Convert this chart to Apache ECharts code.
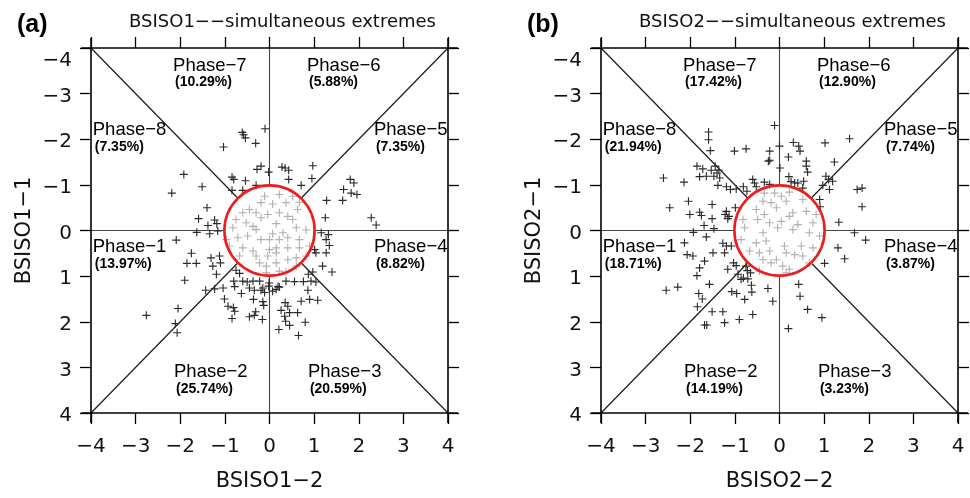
<!DOCTYPE html>
<html>
<head>
<meta charset="utf-8">
<script src="https://cdn.jsdelivr.net/npm/echarts@6/dist/echarts.min.js"></script>
<style>
  html, body { margin: 0; padding: 0; background: #fff; }
  #chart { width: 970px; height: 498px; }
</style>
</head>
<body>
<div id="chart"></div>
<script>
// ---- data ----
var panelTitles = ['BSISO1\u2212\u2212simultaneous extremes', 'BSISO2\u2212\u2212simultaneous extremes'];
var panelTags = ['(a)', '(b)'];
var xNames = ['BSISO1\u22122', 'BSISO2\u22122'];
var yNames = ['BSISO1\u22121', 'BSISO2\u22121'];
var phaseNames = ['Phase\u22121', 'Phase\u22122', 'Phase\u22123', 'Phase\u22124',
                  'Phase\u22125', 'Phase\u22126', 'Phase\u22127', 'Phase\u22128'];
var pctA = [13.97, 25.74, 20.59, 8.82, 7.35, 5.88, 10.29, 7.35];
var pctB = [18.71, 14.19, 3.23, 3.87, 7.74, 12.90, 17.42, 21.94];
var axisMin = -4, axisMax = 4, axisStep = 1;

// BSISO1 (x = component 2, y = component 1)
var pointsA = [
  [-0.10,-2.23],[-0.61,-2.15],[-0.58,-2.10],[-0.54,-2.03],[-0.31,-1.91],[-1.03,-1.83],[-0.19,-1.41],[-0.28,-1.34],
  [-0.02,-1.28],[-0.84,-1.17],[-0.80,-1.12],[-0.54,-1.09],[-0.84,-0.88],[-0.60,-0.88],[-0.30,-0.99],
  [0.28,-1.39],[0.35,-1.37],[0.43,-1.32],[0.97,-1.42],[0.43,-1.12],[0.95,-1.14],[0.71,-0.99],
  [1.81,-1.12],[1.89,-1.04],[1.66,-0.90],[1.83,-0.82],[1.96,-0.79],[1.28,-0.66],[1.64,-0.66],[1.25,-0.28],[2.28,-0.28],[2.39,-0.12],
  [1.16,0.05],[1.32,0.09],[1.27,0.20],[1.34,0.33],[1.01,0.42],[1.04,0.49],[1.27,0.49],[1.40,0.91],[1.19,0.78],[0.97,0.91],
  [-1.92,-1.23],[-1.51,-0.96],[-2.19,-0.82],[-1.40,-0.50],[-1.59,-0.26],[-1.23,-0.23],[-1.38,-0.11],[-1.18,-0.15],
  [-1.63,0.04],[-1.34,0.07],[-1.16,0.01],[-2.09,0.21],[-1.75,0.50],[-1.31,0.60],[-1.85,0.72],[-1.64,0.72],[-1.12,0.56],
  [-1.10,0.71],[-1.27,0.78],[-1.19,0.96],[-1.90,1.09],[-1.43,1.31],[-2.05,1.71],[-2.76,1.86],[-2.11,2.04],
  [-2.07,2.24],[-0.75,0.87],[-0.67,0.94],[-0.80,1.11],[-0.60,1.11],[-0.50,1.13],[-0.37,1.11],[-0.22,1.11],[-1.23,1.28],
  [-1.04,1.26],[-0.78,1.23],[-0.63,1.38],[-0.45,1.26],[-0.34,1.31],[-0.19,1.31],[-0.15,1.26],[-0.11,1.36],[-1.01,1.50],
  [-0.36,1.51],[-0.15,1.56],[-0.13,1.64],[-0.93,1.66],[-0.81,1.69],[-0.78,1.77],[-0.84,1.93],[-0.45,1.89],[-0.34,1.86],
  [-0.16,1.95],[-0.31,1.78],[-0.01,1.15],[-0.02,1.22],
  [0.19,1.23],[0.37,1.11],[0.56,1.12],[0.76,1.12],[0.93,1.11],[1.04,1.13],[0.87,0.96],[0.07,1.33],[0.15,1.29],[0.22,1.24],
  [0.86,1.31],[0.35,1.58],[0.41,1.66],[0.26,1.75],[0.71,1.55],[0.90,1.51],[1.08,1.53],[0.34,1.88],[0.45,1.80],[0.63,1.80],
  [0.36,1.99],[0.45,2.08],[0.80,2.01],[0.21,2.17],[0.65,2.30],
  // inside the unit circle
  [-0.11,-0.75],[0.22,-0.79],[0.52,-0.75],[-0.19,-0.61],[0.07,-0.58],[0.37,-0.61],[0.67,-0.62],[-0.60,-0.39],[-0.45,-0.46],
  [-0.30,-0.39],[-0.04,-0.35],[0.22,-0.39],[0.41,-0.31],[0.63,-0.46],[-0.75,-0.24],[-0.52,-0.17],[-0.37,-0.09],[-0.19,-0.28],
  [0.15,-0.15],[0.52,-0.24],[-0.82,-0.06],[-0.30,-0.02],[0.07,0.07],[0.30,0.05],[0.60,-0.06],[0.82,-0.01],[-0.71,0.16],
  [-0.49,0.12],[-0.19,0.20],[0.00,0.20],[0.22,0.20],[0.41,0.16],[0.67,0.20],[-0.90,0.34],[-0.60,0.38],[-0.37,0.45],
  [0.00,0.42],[0.15,0.38],[0.41,0.38],[0.67,0.38],[0.90,0.34],[-0.67,0.56],[-0.30,0.56],[-0.04,0.56],[0.15,0.49],
  [0.41,0.64],[0.60,0.60],[0.82,0.56],[-0.22,0.71],[-0.07,0.78],[0.15,0.71],[0.60,0.78],[-0.97,0.20],[-0.07,0.93],
  [0.22,0.89],[0.37,0.91]
];

// BSISO2
var pointsB = [
  [-0.11,-2.30],[-1.59,-2.16],[-1.59,-1.99],[-1.55,-1.75],[-1.01,-1.74],[-0.75,-1.79],[0.00,-1.85],[-0.22,-1.74],
  [-0.22,-1.54],[-0.25,-1.52],[0.31,-1.93],[0.43,-1.85],[0.46,-1.74],[0.20,-1.61],[1.02,-1.92],[1.57,-2.01],[0.60,-1.52],
  [0.60,-1.41],[0.63,-1.28],[0.01,-1.37],[1.23,-1.50],
  [-1.85,-1.41],[-1.72,-1.35],[-1.79,-1.18],[-1.53,-1.32],[-1.44,-1.41],[-1.36,-1.32],[-1.40,-1.26],[-1.34,-1.15],
  [-1.38,-0.99],[-1.64,-1.19],[-1.47,-1.19],[-2.60,-1.15],[-2.14,-1.06],[-1.19,-0.96],[-1.10,-0.90],[-0.97,-0.91],
  [-0.81,-0.96],[-0.73,-0.86],[-0.60,-1.12],[-0.56,-1.04],[-0.52,-0.96],[-0.34,-1.06],[-0.22,-1.01],
  [0.21,-1.18],[0.26,-1.07],[0.34,-1.04],[0.41,-1.04],[0.54,-1.08],[0.52,-0.93],[1.04,-1.19],[1.10,-1.12],[0.97,-0.99],
  [0.90,-0.68],[0.91,-0.52],[1.12,-0.90],[1.19,-1.08],[1.74,-0.90],[1.85,-0.93],
  [-2.46,-0.50],[-2.04,-0.64],[-2.01,-0.35],[-1.79,-0.40],[-1.75,-0.33],[-1.51,-0.57],[-1.51,-0.26],[-1.19,-0.42],
  [-1.22,-0.35],[-1.13,-0.31],[-1.16,-0.26],[-0.99,-0.50],[-1.69,-0.11],[-1.47,-0.04],[-1.93,0.04],
  [1.85,-0.52],[1.33,-0.18],[1.68,0.05],[1.93,0.21],
  [-2.13,0.27],[-2.07,0.53],[-1.94,0.56],[-1.64,0.14],[-1.49,0.49],[-1.27,0.28],[-1.23,0.49],[-1.19,0.34],[-1.08,0.34],
  [-1.68,0.67],[-1.79,0.82],[-1.85,0.99],[-1.16,0.85],[-1.03,0.71],[-0.97,0.77],[-0.75,0.78],[-0.72,0.88],[-0.93,0.96],
  [-0.86,1.07],[-0.81,1.04],[-0.65,0.93],[-0.71,1.06],
  [1.31,0.38],[1.46,0.62],[1.01,0.72],
  [-2.54,1.31],[-2.28,1.24],[-1.81,1.38],[-1.73,1.50],[-1.57,1.18],[-1.07,1.34],[-0.96,1.38],[-0.78,1.51],[-0.63,1.20],
  [-0.62,1.35],[-0.26,1.27],[-0.15,1.55],[0.43,1.18],[0.46,1.44],[0.63,1.73],[0.95,1.91],[-1.84,1.67],[-1.51,1.78],
  [-1.27,1.78],[-1.23,2.02],[-0.90,1.95],[-0.60,1.84],[-1.68,2.07],[-1.63,2.07],[0.20,2.15],
  // inside the unit circle
  [-0.34,-0.82],[-0.11,-0.82],[0.22,-0.84],[0.04,-0.75],[-0.37,-0.64],[-0.19,-0.61],[0.15,-0.64],[0.52,-0.68],
  [-0.52,-0.46],[-0.34,-0.35],[-0.07,-0.50],[0.30,-0.39],[0.60,-0.42],[0.82,-0.35],[-0.82,-0.24],[-0.49,-0.24],
  [-0.22,-0.17],[0.04,-0.20],[0.22,-0.31],[0.41,-0.13],[0.75,-0.17],[-0.78,-0.06],[-0.37,0.05],[-0.04,-0.06],
  [0.30,-0.02],[0.67,0.05],[0.90,0.12],[-0.86,0.20],[-0.52,0.27],[-0.30,0.23],[0.11,0.34],[0.49,0.34],[0.75,0.38],
  [-0.67,0.45],[-0.45,0.49],[-0.22,0.45],[-0.07,0.64],[0.15,0.49],[0.34,0.53],[0.52,0.56],[-0.37,0.64],[-0.19,0.71],
  [0.07,0.78],[0.22,0.85],[-0.45,0.89],[0.15,0.93],[0.67,0.71]
];

// ---- layout ----
var FONT = '"DejaVu Sans", sans-serif';
var LABEL_FONT = '"Liberation Sans", Arial, sans-serif';
var gridLefts = [91, 601];
var gridTop = 48, gridW = 357, gridH = 365;
// anchor (left edge, middle of the two lines) of each phase label, in axis units
var phaseLabelAt = [[-3.96, 0.55], [-2.14, 3.29], [0.86, 3.29], [2.34, 0.55],
                    [2.34, -2.01], [0.84, -3.43], [-2.16, -3.43], [-3.96, -2.01]];
var EXT = 4.22;   // frame lines run a little past the corners
var D = Math.SQRT1_2;

var plusSymbol = 'path://M0,4.3H10V5.7H0Z M4.3,0H5.7V10H4.3Z';

function tickText(v) {
    return v < 0 ? '\u2212' + (-v) : String(v);
}

var grids = [], xAxes = [], yAxes = [], series = [], graphics = [];

function addPanel(k, points, pct) {
    grids.push({ left: gridLefts[k], top: gridTop, width: gridW, height: gridH,
                 containLabel: false, outerBoundsMode: 'none' });

    var tick = { show: true, inside: false, length: 11, lineStyle: { color: '#000', width: 1.3 } };
    var base = { gridIndex: k, type: 'value', min: axisMin, max: axisMax, interval: axisStep,
                 axisLine: { show: false, onZero: false }, splitLine: { show: false }, axisTick: tick };

    xAxes.push(Object.assign({}, base, {
        position: 'bottom', name: xNames[k], nameLocation: 'middle', nameGap: 58,
        nameTextStyle: { fontFamily: FONT, fontSize: 21, color: '#111' },
        axisLabel: { margin: 24, fontFamily: FONT, fontSize: 20, color: '#111', formatter: tickText }
    }));
    xAxes.push(Object.assign({}, base, { position: 'top', axisLabel: { show: false } }));

    yAxes.push(Object.assign({}, base, {
        position: 'left', inverse: true, name: yNames[k], nameLocation: 'middle', nameGap: 56,
        nameTextStyle: { fontFamily: FONT, fontSize: 21, color: '#111' },
        axisLabel: {
            margin: 19, fontFamily: FONT, fontSize: 20, color: '#111', padding: [6, 0, 0, 0],
            formatter: function (v) {
                return v === axisMin ? '{first|' + tickText(v) + '}' : tickText(v);
            },
            rich: { first: { fontFamily: FONT, fontSize: 20, color: '#111', padding: [20, 0, 0, 0] } }
        }
    }));
    yAxes.push(Object.assign({}, base, { position: 'right', inverse: true, axisLabel: { show: false } }));

    var xi = 2 * k, yi = 2 * k;

    // box frame
    series.push({
        type: 'lines', coordinateSystem: 'cartesian2d', xAxisIndex: xi, yAxisIndex: yi,
        clip: false, silent: true, z: 5,
        lineStyle: { color: '#000', width: 1.6, opacity: 1 },
        data: [
            { coords: [[-EXT, axisMin], [EXT, axisMin]] },
            { coords: [[-EXT, axisMax], [EXT, axisMax]] },
            { coords: [[axisMin, -EXT], [axisMin, EXT]] },
            { coords: [[axisMax, -EXT], [axisMax, EXT]] }
        ]
    });
    // phase dividers, from the unit circle out to the frame
    series.push({
        type: 'lines', coordinateSystem: 'cartesian2d', xAxisIndex: xi, yAxisIndex: yi,
        silent: true, z: 3,
        lineStyle: { color: '#1a1a1a', width: 1.2, opacity: 1 },
        data: [
            { coords: [[-4, -4], [-D, -D]] }, { coords: [[D, D], [4, 4]] },
            { coords: [[-4, 4], [-D, D]] }, { coords: [[D, -D], [4, -4]] }
        ]
    });
    series.push({
        type: 'lines', coordinateSystem: 'cartesian2d', xAxisIndex: xi, yAxisIndex: yi,
        silent: true, z: 3,
        lineStyle: { color: '#444', width: 1.1, opacity: 1 },
        data: [
            { coords: [[0, -4], [0, -1]] }, { coords: [[0, 1], [0, 4]] },
            { coords: [[-4, 0], [-1, 0]] }, { coords: [[1, 0], [4, 0]] }
        ]
    });

    // events
    series.push({
        type: 'scatter', xAxisIndex: xi, yAxisIndex: yi, z: 4,
        symbol: plusSymbol, symbolSize: 8,
        itemStyle: {
            opacity: 1,
            color: function (p) {
                return Math.sqrt(p.value[0] * p.value[0] + p.value[1] * p.value[1]) < 1 ? '#b0b0b0' : '#2a2a2a';
            }
        },
        data: points
    });

    // unit circle
    series.push({
        type: 'custom', xAxisIndex: xi, yAxisIndex: yi, z: 6, silent: true,
        data: [[0, 0]],
        renderItem: function (params, api) {
            var c = api.coord([0, 0]);
            var s = api.size([1, 1]);
            return { type: 'circle', shape: { cx: c[0], cy: c[1], r: (s[0] + s[1]) / 2 },
                     style: { fill: 'none', stroke: '#ee1c1c', lineWidth: 2.6 } };
        }
    });

    // phase labels
    series.push({
        type: 'scatter', xAxisIndex: xi, yAxisIndex: yi, z: 7, silent: true,
        symbolSize: 0, itemStyle: { color: '#000', opacity: 1 },
        data: phaseLabelAt.map(function (p, i) {
            return { value: p, name: phaseNames[i] };
        }),
        label: {
            show: true, position: 'right', distance: 0, align: 'left', verticalAlign: 'middle',
            color: '#000', opacity: 1, textBorderWidth: 0,
            formatter: function (p) {
                return '{p|' + phaseNames[p.dataIndex] + '}\n{v|(' + pct[p.dataIndex].toFixed(2) + '%)}';
            },
            rich: {
                p: { fontFamily: LABEL_FONT, fontSize: 18.5, color: '#000', lineHeight: 17, textBorderWidth: 0 },
                v: { fontFamily: LABEL_FONT, fontSize: 14, fontWeight: 'bold', color: '#000', lineHeight: 17,
                     textBorderWidth: 0, padding: [0, 0, 0, 2] }
            }
        }
    });

    graphics.push({
        type: 'text', x: gridLefts[k] + gridW / 2 + 13, y: 22,
        style: { text: panelTitles[k], fontFamily: FONT, fontSize: 18, fill: '#111',
                 align: 'center', verticalAlign: 'middle' }
    });
    graphics.push({
        type: 'text', x: gridLefts[k] - 74, y: 25,
        style: { text: panelTags[k], fontFamily: LABEL_FONT, fontSize: 25,
                 fontWeight: 'bold', fill: '#000', align: 'left', verticalAlign: 'middle' }
    });
}

addPanel(0, pointsA, pctA);
addPanel(1, pointsB, pctB);

var option = {
    backgroundColor: '#fff',
    animation: false,
    textStyle: { fontFamily: FONT },
    grid: grids,
    xAxis: xAxes,
    yAxis: yAxes,
    series: series,
    graphic: graphics
};

var myChart = echarts.init(document.getElementById('chart'));
myChart.setOption(option);
</script>
</body>
</html>
